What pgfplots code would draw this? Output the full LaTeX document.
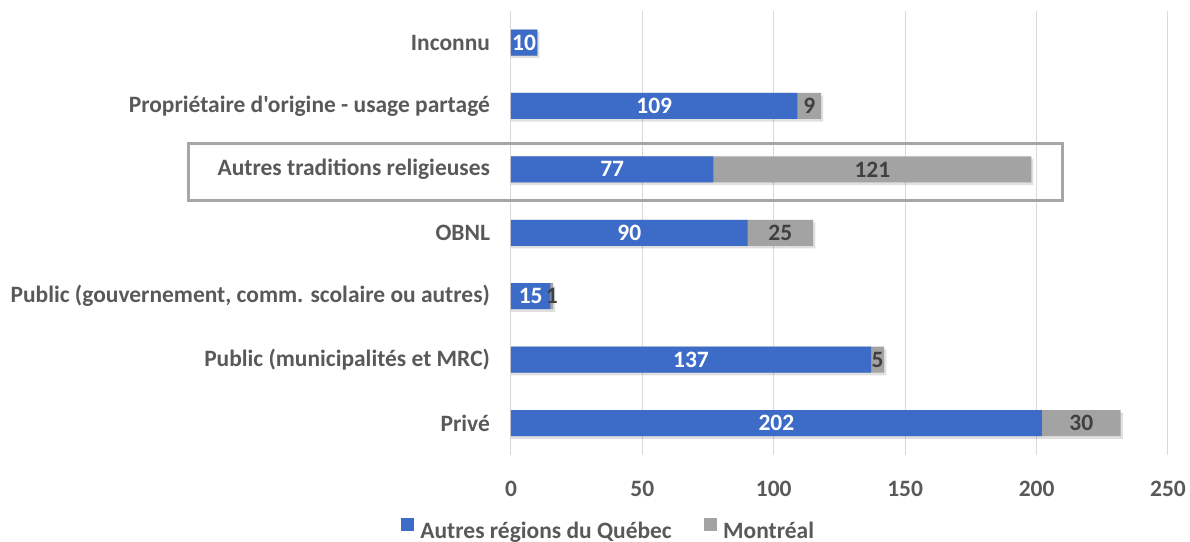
\documentclass[border=0pt]{standalone}
\usepackage{pgfplots}
\pgfplotsset{compat=1.18}
\usepackage{pgfplotstable}
\usepackage{fontspec}
\setmainfont{Carlito}[Ligatures=TeXOff]
\definecolor{bluec}{HTML}{3D6BC8}
\definecolor{grayc}{HTML}{A3A3A3}
\definecolor{gridc}{HTML}{D9D9D9}
\definecolor{textc}{HTML}{595959}
\definecolor{darkc}{HTML}{404040}
\definecolor{boxc}{HTML}{A6A6A6}

\pgfplotstableread[col sep=comma]{
idx,q,m
0,202,30
1,137,5
2,15,1
3,90,25
4,77,121
5,109,9
6,10,0
}\datatable

\newcommand{\lblfont}{\fontsize{17.6}{20}\selectfont\bfseries}

\begin{document}
\begin{tikzpicture}
\path[use as bounding box] (-383.25pt,-65.4pt) rectangle (509.25pt,341.1pt);
\begin{axis}[
  scale only axis, width=492.75pt, height=333pt,
  xmin=0, xmax=250, ymin=-0.5, ymax=6.5,
  xbar, bar width=19.5pt, bar shift=0pt,
  xtick={0,50,...,250}, ytick={0,...,6},
  yticklabels={Privé, Public (municipalités et MRC), {Public (gouvernement, comm. scolaire ou autres)}, OBNL, Autres traditions religieuses, Propriétaire d'origine - usage partagé, Inconnu},
  axis line style={draw=none},
  tick style={draw=none},
  xmajorgrids,
  major grid style={draw=gridc, line width=0.75pt},
  ticklabel style={font=\lblfont, text=textc},
  xticklabel style={yshift=-16pt},
  yticklabel style={xshift=-8pt},
  /pgf/number format/assume math mode=true,
  clip=false,
  legend style={at={(0.149,-0.170)}, anchor=center, draw=none, legend columns=2,
    font=\lblfont, text=textc, /tikz/every even column/.append style={column sep=22pt}},
  legend image code/.code={\fill[#1] (0pt,0pt) rectangle (9.75pt,9.75pt);
    \path[draw=none, fill=none] (12.5pt,0pt) circle (0pt);},
]
\addplot[forget plot, fill=black, fill opacity=0.12, draw=none, bar shift=-2pt]
  table[x expr=\thisrow{q}+\thisrow{m}+0.8, y=idx]{\datatable};
\addplot[forget plot, fill=grayc, draw=none]
  table[x expr=\thisrow{q}+\thisrow{m}, y=idx]{\datatable};
\addplot[forget plot, fill=bluec, draw=none]
  table[x=q, y=idx]{\datatable};
\addplot[forget plot, draw=none, fill=none, nodes near coords, point meta=explicit,
  nodes near coords align=center,
  every node near coord/.style={font=\lblfont, text=white}]
  table[x expr=\thisrow{q}/2, y=idx, meta=q]{\datatable};
\addplot[forget plot, draw=none, fill=none, nodes near coords, point meta=explicit,
  nodes near coords align=center, skip coords between index={6}{7},
  every node near coord/.style={font=\lblfont, text=darkc}]
  table[x expr=\thisrow{q}+\thisrow{m}/2, y=idx, meta=m]{\datatable};
\addlegendimage{fill=bluec, draw=none}
\addlegendentry{Autres régions du Québec}
\addlegendimage{fill=grayc, draw=none}
\addlegendentry{Montréal}
\draw[boxc, line width=2.25pt] (axis cs:-122.9,3.516) rectangle (axis cs:209.7,4.415);
\end{axis}
\end{tikzpicture}
\end{document}
